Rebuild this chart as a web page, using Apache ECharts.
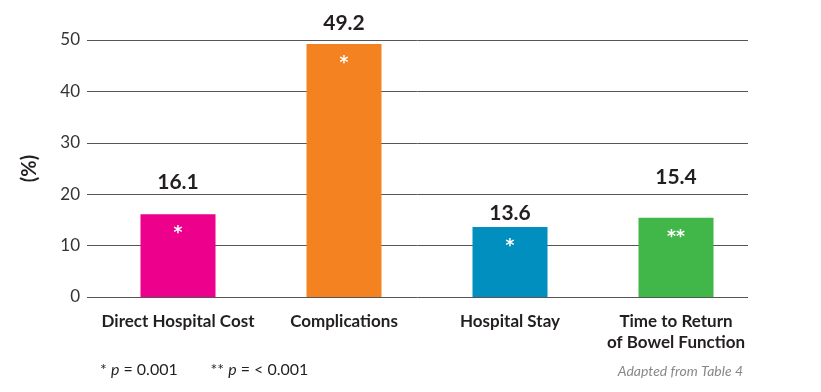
<!DOCTYPE html>
<html>
<head>
<meta charset="utf-8">
<script src="https://cdn.jsdelivr.net/npm/echarts@6/dist/echarts.min.js"></script>
<style>
  html, body { margin: 0; padding: 0; background: #fff; }
  #chart { width: 821px; height: 392px; }
</style>
</head>
<body>
<div id="chart"></div>
<script>
const categories = ['Direct Hospital Cost', 'Complications', 'Hospital Stay', 'Time to Return\nof Bowel Function'];
const values = [16.1, 49.2, 13.6, 15.4];
const marks = ['*', '*', '*', '**'];
const barColors = ['#EC008C', '#F58220', '#008FBE', '#41B649'];
const yTicks = [0, 10, 20, 30, 40, 50];
// the value labels in the source sit at hand-placed heights
const labelGaps = [22, 10, 3, 30];

const chart = echarts.init(document.getElementById('chart'));

// grid 0 carries the y ticks and rules, grid 1 (same height) places the bars
chart.setOption({
    animation: false,
    textStyle: {fontFamily: 'Lato'},
    grid: [
        {left: 87, right: 73, top: 40, bottom: 95},
        {left: 95, right: 62, top: 40, bottom: 95}
    ],
    xAxis: [
        {type: 'category', gridIndex: 0, data: categories, show: false},
        {
            type: 'category',
            gridIndex: 1,
            data: categories,
            axisLine: {show: false},
            axisTick: {show: false},
            axisLabel: {
                color: '#231f20',
                fontSize: 17,
                fontWeight: 'bold',
                lineHeight: 21,
                margin: 14,
                interval: 0
            }
        }
    ],
    yAxis: [
        {
            type: 'value',
            gridIndex: 0,
            min: yTicks[0],
            max: yTicks[yTicks.length - 1],
            interval: 10,
            name: '(%)',
            nameLocation: 'middle',
            nameGap: 47,
            nameRotate: 90,
            nameTextStyle: {color: '#231f20', fontSize: 20, fontWeight: 'bold'},
            axisLine: {show: false},
            axisTick: {show: false},
            axisLabel: {color: '#333', fontSize: 17, margin: 7},
            splitLine: {lineStyle: {color: '#555', width: 1}}
        },
        {
            type: 'value',
            gridIndex: 1,
            min: yTicks[0],
            max: yTicks[yTicks.length - 1],
            interval: 10,
            show: false,
            splitLine: {show: false}
        }
    ],
    series: [
        {
            type: 'bar',
            xAxisIndex: 1,
            yAxisIndex: 1,
            barWidth: 75,
            data: values.map(function (v, i) {
                return {value: v, itemStyle: {color: barColors[i]}, label: {distance: labelGaps[i]}};
            }),
            label: {
                show: true,
                position: 'top',
                color: '#231f20',
                fontSize: 21,
                fontWeight: 'bold'
            }
        },
        {
            type: 'bar',
            xAxisIndex: 1,
            yAxisIndex: 1,
            barWidth: 75,
            barGap: '-100%',
            silent: true,
            itemStyle: {color: 'transparent'},
            data: values.map(function (v, i) {
                return {value: v, label: {formatter: marks[i]}};
            }),
            label: {
                show: true,
                position: 'insideTop',
                distance: 11,
                color: '#fff',
                fontFamily: 'DejaVu Sans',
                fontSize: 17,
                fontWeight: 'bold'
            }
        }
    ],
    graphic: [
        {
            type: 'text',
            left: 100,
            top: 362,
            style: {
                text: '{n|* }{i|p}{n| = 0.001        ** }{i|p}{n| = < 0.001}',
                rich: {
                    n: {fontFamily: 'Lato', fontSize: 16, fill: '#231f20'},
                    i: {fontFamily: 'Lato', fontSize: 16, fontStyle: 'italic', fill: '#231f20'}
                }
            }
        },
        {
            type: 'text',
            right: 78,
            top: 364,
            style: {
                text: 'Adapted from Table 4',
                fontFamily: 'Lato',
                fontSize: 14,
                fontStyle: 'italic',
                fill: '#888'
            }
        }
    ]
});
</script>
</body>
</html>
